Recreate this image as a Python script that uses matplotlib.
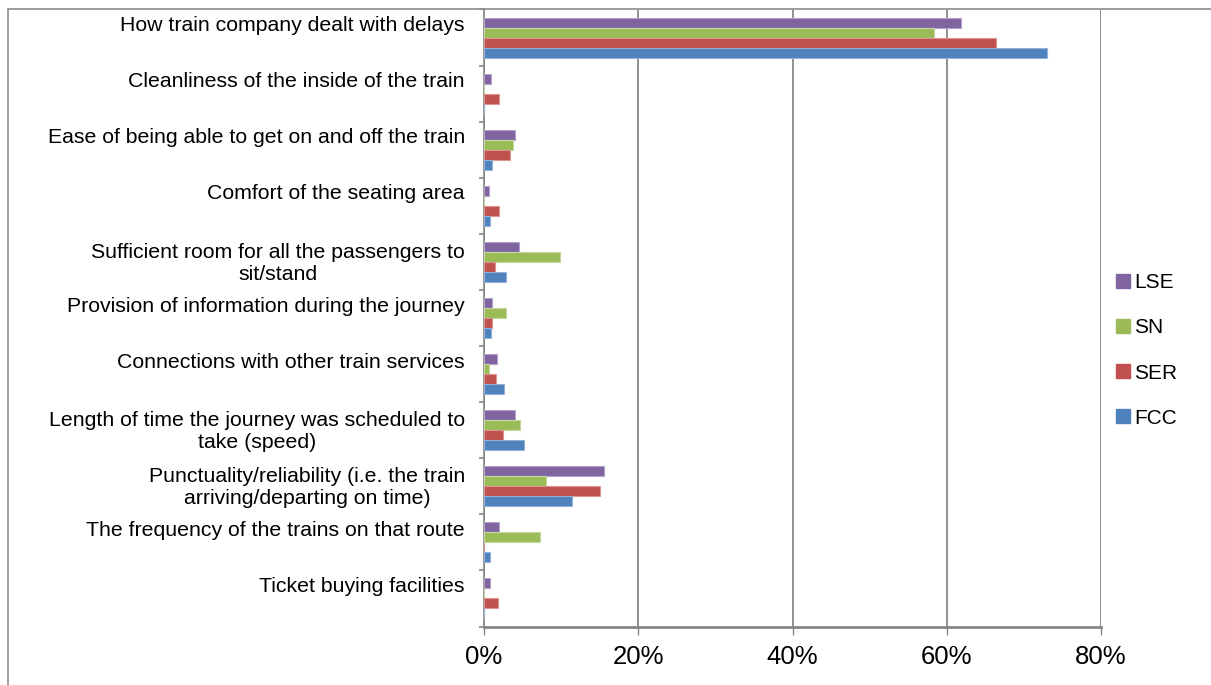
import numpy as np
import matplotlib.pyplot as plt
import matplotlib.transforms as mtransforms
from matplotlib.lines import Line2D
from matplotlib.patches import Rectangle

plt.rcParams['font.family'] = ['Liberation Sans', 'DejaVu Sans']

categories = [
    "How train company dealt with delays",
    "Cleanliness of the inside of the train",
    "Ease of being able to get on and off the train",
    "Comfort of the seating area",
    "Sufficient room for all the passengers to\nsit/stand",
    "Provision of information during the journey",
    "Connections with other train services",
    "Length of time the journey was scheduled to\ntake (speed)",
    "Punctuality/reliability (i.e. the train\narriving/departing on time)",
    "The frequency of the trains on that route",
    "Ticket buying facilities",
]

# percent of passengers
lse = [61.9, 0.9, 4.0, 0.7, 4.5, 1.1, 1.7, 4.0, 15.6, 2.0, 0.8]
sn = [58.4, 0.0, 3.8, 0.0, 9.8, 2.8, 0.7, 4.7, 8.0, 7.3, 0.0]
ser = [66.4, 1.9, 3.4, 1.9, 1.4, 1.0, 1.55, 2.4, 15.0, 0.0, 1.8]
fcc = [73.0, 0.0, 1.0, 0.8, 2.9, 0.95, 2.55, 5.2, 11.4, 0.8, 0.0]

series = ["LSE", "SN", "SER", "FCC"]
colors = ["#8064A2", "#9BBB59", "#C0504D", "#4F81BD"]
edges = ["#b3a2c7", "#c3d69b", "#d99694", "#95b3d7"]

x_ticks = [0, 20, 40, 60, 80]
x_labels = ["0%", "20%", "40%", "60%", "80%"]

fig = plt.figure(figsize=(12.11, 6.85), dpi=100)
ax = fig.add_axes([484 / 1211, 58.5 / 685, 617 / 1211, 617 / 685])

# outer chart border (runs off the right and bottom of the picture)
fig.patches.append(Rectangle((8 / 1211, -0.1), 1.2, 1.1 - 9 / 685,
                             transform=fig.transFigure, fill=False,
                             edgecolor="#8c8c8c", linewidth=1.2))

pos = np.arange(len(categories))
h = 0.178
for k, vals in enumerate([lse, sn, ser, fcc]):
    ax.barh(pos + (k - 1.5) * h, vals, height=h, color=colors[k],
            edgecolor=edges[k], linewidth=0.8, zorder=3)

ax.set_xlim(0, 80)
ax.set_ylim(len(categories) - 0.5, -0.5)

ax.set_xticks(x_ticks)
ax.set_xticklabels(x_labels, fontsize=18.5)
ax.tick_params(axis="x", length=5.5, width=1, color="#878787", pad=8)
ax.xaxis.grid(True, color="#878787", linewidth=1.3, zorder=0)

ax.set_yticks(np.arange(len(categories) + 1) - 0.5)
ax.set_yticklabels([])
ax.set_yticks(pos, minor=True)
ax.set_yticklabels(categories, minor=True, fontsize=15.3, ha="right",
                   multialignment="center")
ax.tick_params(axis="y", which="major", length=3.6, width=1.2, color="#878787")
ax.tick_params(axis="y", which="minor", length=0, pad=13.7)

# single-line labels sit higher than the category centre, like in Excel
for lab in ax.get_yticklabels(minor=True):
    dy = 1.5 if "\n" in lab.get_text() else 10.0
    off = mtransforms.ScaledTranslation(0, dy / 72, fig.dpi_scale_trans)
    lab.set_transform(lab.get_transform() + off)

for s in ["top", "right"]:
    ax.spines[s].set_visible(False)
ax.spines["left"].set_color("#878787")
ax.spines["left"].set_linewidth(1.2)
ax.spines["bottom"].set_color("#878787")
ax.spines["bottom"].set_linewidth(2)

handles = [Line2D([], [], marker="s", linestyle="none", markersize=9.5,
                  markerfacecolor=c, markeredgecolor=c) for c in colors]
fig.legend(handles, series, loc="center left",
           bbox_to_anchor=(1116 / 1211, 1 - 350.5 / 685), frameon=False,
           fontsize=15, handlelength=0.7, handletextpad=0.16,
           labelspacing=1.25, borderpad=0, borderaxespad=0)

fig.savefig("out.png", dpi=100)
